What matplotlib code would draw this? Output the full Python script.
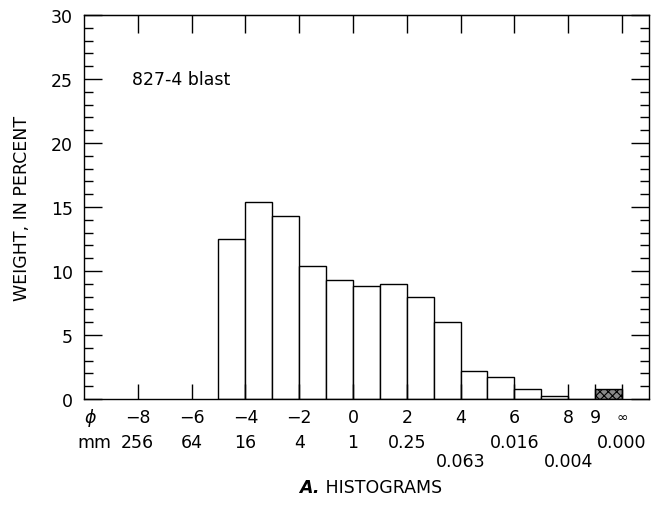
import matplotlib
matplotlib.use("Agg")
import matplotlib.pyplot as plt
from matplotlib.ticker import MultipleLocator

plt.rcParams['font.family'] = ['DejaVu Sans']
plt.rcParams['hatch.color'] = '#333333'
plt.rcParams['hatch.linewidth'] = 0.8

# Data: histogram bins in phi units (left edges) and weight percent
bin_left = [-5, -4, -3, -2, -1, 0, 1, 2, 3, 4, 5, 6, 7, 8]
weight = [12.5, 15.4, 14.3, 10.4, 9.3, 8.8, 9.0, 8.0, 6.0, 2.2, 1.75, 0.8, 0.2, 0.0]
shaded_left = [9]
shaded_weight = [0.8]

phi_ticks = [-8, -6, -4, -2, 0, 2, 4, 6, 8, 9, 10]
phi_labels = ['\u22128', '\u22126', '\u22124', '\u22122', '0', '2', '4', '6', '8', '9', '\u221e']
mm_pos_row1 = [-8, -6, -4, -2, 0, 2, 6, 10]
mm_labels_row1 = ['256', '64', '16', '4', '1', '0.25', '0.016', '0.000']
mm_pos_row2 = [4, 8]
mm_labels_row2 = ['0.063', '0.004']
top_ticks = [-8, -6, -4, -2, 0, 2, 4, 6, 8, 10]

fs = 12.5

fig = plt.figure(figsize=(6.63, 5.06), dpi=100)
ax = fig.add_axes([0.1267, 0.2095, 0.852, 0.7589])

ax.bar(bin_left, weight, width=1.0, align='edge', facecolor='white',
       edgecolor='black', linewidth=1.0)
ax.bar(shaded_left, shaded_weight, width=1.0, align='edge', facecolor='#8a8a8a',
       edgecolor='black', linewidth=1.0, hatch='xxxx')

ax.set_xlim(-10, 11)
ax.set_ylim(0, 30)

for s in ax.spines.values():
    s.set_linewidth(1.0)

# y ticks
ax.yaxis.set_major_locator(MultipleLocator(5))
ax.yaxis.set_minor_locator(MultipleLocator(1))
ax.tick_params(axis='y', which='major', direction='in', length=13, width=1.0,
               left=True, right=True, labelsize=fs, pad=8)
ax.tick_params(axis='y', which='minor', direction='in', length=6.5, width=1.0,
               left=True, right=True)

# x ticks (bottom, no labels) and top ticks
ax.set_xticks(phi_ticks)
ax.set_xticklabels([])
ax.tick_params(axis='x', which='major', direction='in', length=11, width=1.0,
               bottom=True, top=False)
ax.xaxis.set_minor_locator(plt.NullLocator())
secx = ax.secondary_xaxis('top')
secx.set_xticks(top_ticks)
secx.set_xticklabels([])
secx.tick_params(direction='in', length=13, width=1.0)

trans = ax.get_xaxis_transform()

def put(x, txt, dy, **kw):
    ax.annotate(txt, xy=(x, 0), xycoords=trans, xytext=(0, -dy),
                textcoords='offset pixels', ha='center', va='center',
                fontsize=kw.pop('fontsize', fs), annotation_clip=False, **kw)

put(-9.75, '\u03d5', 18, fontstyle='italic')
for x, t in zip(phi_ticks, phi_labels):
    put(x, t, 18, fontsize=(10 if t == '\u221e' else fs))
put(-9.6, 'mm', 43)
for x, t in zip(mm_pos_row1, mm_labels_row1):
    put(x, t, 43)
for x, t in zip(mm_pos_row2, mm_labels_row2):
    put(x, t, 62)

ax.set_ylabel('WEIGHT, IN PERCENT', fontsize=fs, labelpad=14)
ax.text(-8.2, 25.0, '827-4 blast', fontsize=fs, ha='left', va='center')

ty = 1 - 488 / 506
fig.text(0.482, ty, 'A.', fontsize=fs, fontstyle='italic', fontweight='bold',
         ha='right', va='center')
fig.text(0.482, ty, ' HISTOGRAMS', fontsize=fs, ha='left', va='center')

fig.savefig('out.png', dpi=100)
